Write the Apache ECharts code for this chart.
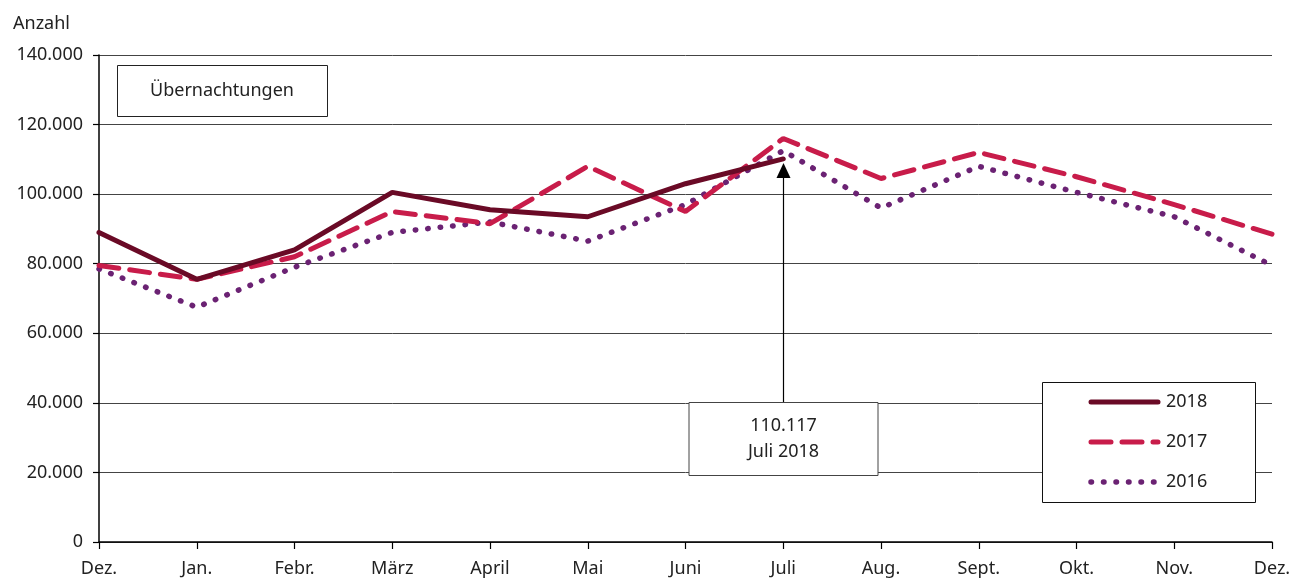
<!DOCTYPE html>
<html><head><meta charset="utf-8">
<script src="https://cdn.jsdelivr.net/npm/echarts@6/dist/echarts.min.js"></script>
<style>html,body{margin:0;padding:0;background:#fff}#c{width:1304px;height:582px}</style>
</head><body><div id="c"></div>
<script>
const categories = ['Dez.','Jan.','Febr.','März','April','Mai','Juni','Juli','Aug.','Sept.','Okt.','Nov.','Dez.'];
const s2018 = [89000, 75500, 84000, 100500, 95500, 93500, 103000, 110117];
const s2017 = [79500, 75500, 82000, 95000, 91500, 108000, 95000, 116000, 104500, 112000, 105000, 97000, 88500];
const s2016 = [78500, 67500, 79000, 89000, 92000, 86500, 97000, 112500, 96000, 108000, 100500, 93500, 79500];
const seriesNames = ['2018','2017','2016'];
const colors = ['#6a0a26','#c81c4a','#6b2273'];
const annotationText = ['110.117','Juli 2018'];
const titleText = 'Übernachtungen';
const yName = 'Anzahl';

const FONT = '"Noto Sans", "Open Sans", sans-serif';
const FS = 18;
const fmt = v => v === 0 ? '0' : v.toLocaleString('de-DE', {useGrouping: true}).replace(/,/g,'.');

const chart = echarts.init(document.getElementById('c'));
const option = {
  animation: false,
  grid: {left: 99, right: 32, top: 55, bottom: 40},
  xAxis: {
    type: 'category', data: categories, boundaryGap: false,
    axisLine: {lineStyle: {color: '#000', width: 1.5}},
    axisTick: {show: true, length: 7, lineStyle: {color: '#000', width: 1.2}},
    axisLabel: {color: '#222', fontFamily: FONT, fontSize: FS, margin: 18, interval: 0}
  },
  yAxis: {
    type: 'value', min: 0, max: 140000, interval: 20000,
    name: yName, nameLocation: 'end', nameGap: 22,
    nameTextStyle: {color: '#222', fontFamily: FONT, fontSize: FS, align: 'left', padding: [0,0,0,-86]},
    axisLine: {show: true, lineStyle: {color: '#000', width: 1.5}},
    axisTick: {show: true, length: 6, lineStyle: {color: '#000', width: 1.2}},
    axisLabel: {color: '#222', fontFamily: FONT, fontSize: FS, margin: 16, formatter: fmt},
    splitLine: {lineStyle: {color: '#444', width: 1}}
  },
  series: [
    {name: seriesNames[0], type: 'line', data: s2018, symbol: 'none', z: 3,
     lineStyle: {color: colors[0], width: 5, cap: 'round'}},
    {name: seriesNames[1], type: 'line', data: s2017, symbol: 'none', z: 2,
     lineStyle: {color: colors[1], width: 5, type: [20, 11], cap: 'round'}},
    {name: seriesNames[2], type: 'line', data: s2016, symbol: 'none', z: 1,
     lineStyle: {color: colors[2], width: 5.5, type: [0.5, 12], cap: 'round'}}
  ]
};
chart.setOption(option);

// annotation derived from data
const pt = chart.convertToPixel({seriesIndex: 0}, [7, s2018[7]]);
const ax = Math.round(pt[0]) + 0.5;
const boxTop = 402, boxH = 73, boxW = 189;
const legX = 1042, legY = 382, legW = 213, legH = 120;
const legendDash = [null, [20, 11], [0.5, 12]];
const graphic = [
  {type: 'rect', shape: {x: 117.5, y: 65.5, width: 210, height: 51}, style: {fill: '#fff', stroke: '#222', lineWidth: 1}, z: 10},
  {type: 'text', x: 222, y: 91, style: {text: titleText, fill: '#222', font: FS + 'px ' + FONT, align: 'center', verticalAlign: 'middle'}, z: 11},
  {type: 'line', shape: {x1: ax, y1: boxTop, x2: ax, y2: pt[1] + 18}, style: {stroke: '#000', lineWidth: 1.2}, z: 10},
  {type: 'polygon', shape: {points: [[ax, pt[1] + 4], [ax - 7, pt[1] + 19], [ax + 7, pt[1] + 19]]}, style: {fill: '#000'}, z: 10},
  {type: 'rect', shape: {x: ax - boxW / 2, y: boxTop + 0.5, width: boxW, height: boxH}, style: {fill: '#fff', stroke: '#444', lineWidth: 1}, z: 10},
  {type: 'text', x: ax, y: boxTop + 24, style: {text: annotationText[0], fill: '#222', font: FS + 'px ' + FONT, align: 'center', verticalAlign: 'middle'}, z: 11},
  {type: 'text', x: ax, y: boxTop + 50, style: {text: annotationText[1], fill: '#222', font: FS + 'px ' + FONT, align: 'center', verticalAlign: 'middle'}, z: 11},
  {type: 'rect', shape: {x: legX + 0.5, y: legY + 0.5, width: legW, height: legH}, style: {fill: '#fff', stroke: '#111', lineWidth: 1}, z: 10}
];
seriesNames.forEach((n, i) => {
  const y = legY + 20 + i * 40;
  graphic.push({type: 'line', shape: {x1: 1091, y1: y, x2: 1158, y2: y},
    style: {stroke: colors[i], lineWidth: i === 2 ? 5.5 : 5, lineCap: 'round', lineDash: legendDash[i]}, z: 11});
  graphic.push({type: 'text', x: 1166, y: y, style: {text: n, fill: '#222', font: FS + 'px ' + FONT, align: 'left', verticalAlign: 'middle'}, z: 11});
});
chart.setOption({graphic: graphic});
</script>
</body></html>
